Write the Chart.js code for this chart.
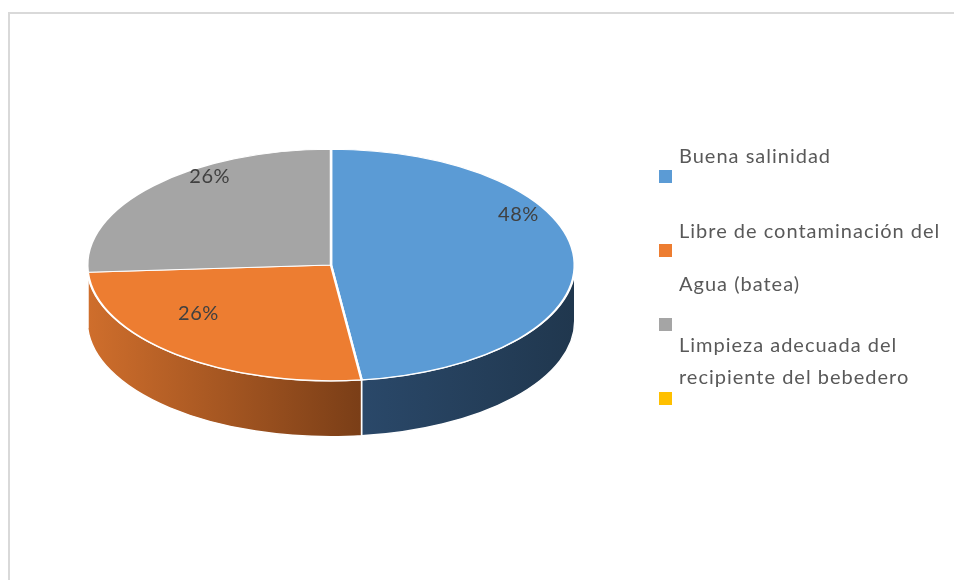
<!DOCTYPE html>
<html>
<head>
<meta charset="utf-8">
<script src="https://cdn.jsdelivr.net/npm/chart.js@4"></script>
<style>
  body { margin: 0; background: #fff; }
  #wrap { position: relative; width: 954px; height: 580px; }
  #frame { position: absolute; left: 8px; top: 12px; right: -4px; bottom: -4px; border: 2px solid #d9d9d9; }
  canvas { position: absolute; left: 0; top: 0; }
</style>
</head>
<body>
<div id="wrap">
  <div id="frame"></div>
  <canvas id="grafico" width="954" height="580"></canvas>
</div>
<script>
const categorias = [
  'Buena salinidad',
  'Libre de contaminación del Agua (batea)',
  'Limpieza adecuada del recipiente del bebedero',
  ''
];
const valores = [48, 26, 26, 0];
const colores = ['#5B9BD5', '#ED7D31', '#A5A5A5', '#FFC000'];
// lines of each legend entry, as the reference wraps them
const leyendaLineas = [
  ['Buena salinidad'],
  ['Libre de contaminación del', 'Agua (batea)'],
  ['Limpieza adecuada del', 'recipiente del bebedero'],
  []
];

const INCLINA = 0.475;   // vertical squash of the pie
const GROSOR = 56;       // thickness of the side wall
const ladoColores = [['#2A4869', '#20374E'], ['#CF6E2C', '#7A3E17'], ['#8A8A8A', '#6E6E6E'], ['#C99700', '#A07800']];
const ajusteEtiqueta = [[5, -45], [-16, -18], [12, -29], [0, 0]];

const pie3d = {
  id: 'pie3d',
  beforeDatasetsDraw(chart) {
    const ctx = chart.ctx;
    const arcs = chart.getDatasetMeta(0).data;
    const cx = arcs[0].x, cy = arcs[0].y, r = arcs[0].outerRadius;
    arcs.forEach((arc, i) => {
      const s = Math.max(arc.startAngle, 0);
      const e = Math.min(arc.endAngle, Math.PI);
      if (e <= s) return;
      const x0 = cx + r * Math.cos(e), x1 = cx + r * Math.cos(s);
      const g = ctx.createLinearGradient(x0, 0, x1, 0);
      g.addColorStop(0, ladoColores[i][0]);
      g.addColorStop(1, ladoColores[i][1]);
      ctx.beginPath();
      ctx.ellipse(cx, cy, r, r * INCLINA, 0, s, e);
      ctx.ellipse(cx, cy + GROSOR, r, r * INCLINA, 0, e, s, true);
      ctx.closePath();
      ctx.fillStyle = g;
      ctx.fill();
      ctx.strokeStyle = '#ffffff';
      ctx.lineWidth = 1.5;
      ctx.stroke();
    });
    ctx.save();
    ctx.translate(cx, cy);
    ctx.scale(1, INCLINA);
    ctx.translate(-cx, -cy);
  },
  afterDatasetsDraw(chart) {
    const ctx = chart.ctx;
    ctx.restore();
    const arcs = chart.getDatasetMeta(0).data;
    const datos = chart.data.datasets[0].data;
    const total = datos.reduce((a, b) => a + b, 0);
    ctx.save();
    ctx.font = '20px Lato, "Open Sans", sans-serif';
    ctx.letterSpacing = '0.6px';
    ctx.fillStyle = '#404040';
    ctx.textAlign = 'center';
    ctx.textBaseline = 'middle';
    arcs.forEach((arc, i) => {
      if (!datos[i]) return;
      const m = (arc.startAngle + arc.endAngle) / 2;
      const rr = arc.outerRadius * 0.75;
      const x = arc.x + rr * Math.cos(m) + ajusteEtiqueta[i][0];
      const y = arc.y + rr * INCLINA * Math.sin(m) + ajusteEtiqueta[i][1];
      ctx.fillText(Math.round(datos[i] / total * 100) + '%', x, y);
    });
    ctx.restore();
  },
  afterDraw(chart) {
    const ctx = chart.ctx;
    ctx.save();
    ctx.font = '20px Lato, "Open Sans", sans-serif';
    ctx.letterSpacing = '1px';
    ctx.textBaseline = 'middle';
    // legend: text lines, then the colour box under them
    const filas = [
      { lineas: [157], caja: 170 },
      { lineas: [232, 285], caja: 244 },
      { lineas: [346, 378], caja: 318 },
      { lineas: [], caja: 392 }
    ];
    filas.forEach((f, i) => {
      ctx.fillStyle = '#595959';
      leyendaLineas[i].forEach((t, j) => ctx.fillText(t, 679, f.lineas[j]));
      ctx.fillStyle = chart.data.datasets[0].backgroundColor[i];
      ctx.fillRect(659, f.caja, 13, 13);
    });
    ctx.restore();
  }
};

new Chart(document.getElementById('grafico').getContext('2d'), {
  type: 'pie',
  data: {
    labels: categorias,
    datasets: [{ data: valores, backgroundColor: colores, borderColor: '#ffffff', borderWidth: 2.5 }]
  },
  options: {
    responsive: false,
    animation: false,
    layout: { padding: { left: 86, right: 378, top: 20, bottom: 70 } },
    plugins: { legend: { display: false }, tooltip: { enabled: false } }
  },
  plugins: [pie3d]
});
</script>
</body>
</html>
